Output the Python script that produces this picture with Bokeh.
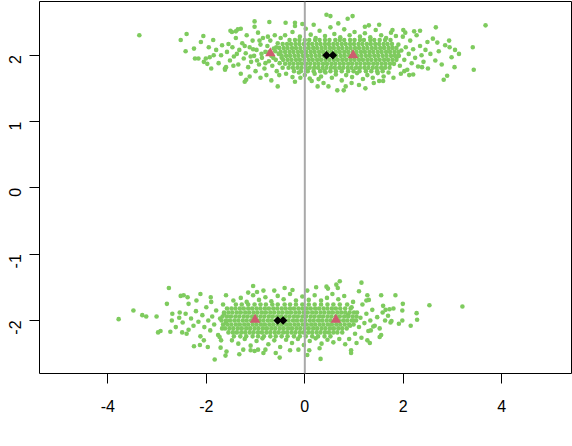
import math
from bokeh.plotting import figure
from bokeh.models import Range1d, FixedTicker, Span
from bokeh.embed import file_html
from bokeh.resources import INLINE

# ---------------- data ----------------
X_TICKS = [-4, -2, 0, 2, 4]
X_LABELS = ["-4", "-2", "0", "2", "4"]
Y_TICKS = [-2, -1, 0, 1, 2]
Y_LABELS = ["-2", "-1", "0", "1", "2"]

# upper cluster: dense core, rows of (y, x-values)
TOP_CORE_ROWS = [
    (2.23, [-0.31, -0.20, -0.11, 0.00, 0.09, 0.21, 0.30, 0.41, 0.50, 0.62, 0.71, 0.80, 0.92, 1.01, 1.12, 1.20, 1.33, 1.41, 1.52, 1.63, 1.74]),
    (2.17, [-0.45, -0.36, -0.28, -0.19, -0.11, -0.02, 0.07, 0.15, 0.24, 0.32, 0.41, 0.49, 0.58, 0.66, 0.75, 0.83, 0.92, 1.00, 1.09, 1.17, 1.26, 1.34, 1.43, 1.51, 1.60, 1.68, 1.77]),
    (2.11, [-0.52, -0.43, -0.35, -0.26, -0.18, -0.09, 0.00, 0.08, 0.17, 0.25, 0.34, 0.42, 0.51, 0.59, 0.68, 0.76, 0.85, 0.93, 1.02, 1.10, 1.19, 1.27, 1.36, 1.44, 1.53, 1.61, 1.70, 1.78, 1.86]),
    (2.05, [-0.49, -0.40, -0.31, -0.23, -0.14, -0.06, 0.03, 0.12, 0.20, 0.29, 0.37, 0.46, 0.54, 0.63, 0.71, 0.80, 0.88, 0.97, 1.05, 1.14, 1.22, 1.31, 1.39, 1.48, 1.56, 1.65, 1.73, 1.82, 1.90]),
    (1.99, [-0.47, -0.38, -0.30, -0.21, -0.13, -0.04, 0.05, 0.13, 0.22, 0.30, 0.39, 0.47, 0.56, 0.64, 0.73, 0.81, 0.90, 0.98, 1.07, 1.15, 1.24, 1.32, 1.41, 1.49, 1.58, 1.66, 1.75, 1.83, 1.91]),
    (1.93, [-0.44, -0.35, -0.27, -0.18, -0.10, -0.01, 0.08, 0.16, 0.25, 0.33, 0.42, 0.50, 0.59, 0.67, 0.76, 0.84, 0.93, 1.01, 1.10, 1.18, 1.27, 1.35, 1.44, 1.52, 1.61, 1.69, 1.78, 1.86]),
    (1.87, [-0.40, -0.31, -0.23, -0.14, -0.06, 0.03, 0.11, 0.20, 0.28, 0.37, 0.45, 0.54, 0.62, 0.71, 0.79, 0.88, 0.96, 1.05, 1.13, 1.22, 1.30, 1.39, 1.47, 1.56, 1.64, 1.73, 1.81]),
    (1.81, [-0.33, -0.24, -0.15, -0.07, 0.02, 0.10, 0.19, 0.27, 0.36, 0.44, 0.53, 0.61, 0.70, 0.78, 0.87, 0.95, 1.04, 1.12, 1.21, 1.29, 1.38, 1.46, 1.55, 1.63, 1.72]),
    (1.76, [-0.22, -0.08, 0.06, 0.18, 0.31, 0.40, 0.52, 0.63, 0.75, 0.88, 0.99, 1.11, 1.24, 1.35, 1.47, 1.58]),
]

# upper cluster: scattered points (x, y)
TOP_SCATTER = [
    (-1.58, 2.05), (-1.52, 1.92), (-1.47, 2.12), (-1.44, 1.98), (-1.40, 2.26), (-1.35, 1.86), (-1.33, 2.08),
    (-1.30, 1.72), (-1.27, 2.18), (-1.24, 1.95), (-1.20, 2.03), (-1.18, 2.30), (-1.15, 1.82), (-1.12, 2.12),
    (-1.09, 1.90), (-1.06, 2.22), (-1.03, 1.99), (-1.00, 1.76), (-0.98, 2.08), (-0.95, 2.34), (-0.93, 1.86),
    (-0.90, 2.16), (-0.87, 1.96), (-0.85, 2.26), (-0.82, 1.80), (-0.80, 2.05), (-0.78, 1.70), (-0.76, 2.14),
    (-0.73, 1.91), (-0.70, 2.22), (-0.68, 1.99), (-0.66, 1.84), (-0.63, 2.10), (-0.61, 2.30), (-0.59, 1.93),
    (-0.57, 1.76), (-0.55, 2.18), (-0.53, 2.02), (-0.51, 1.88), (-0.49, 2.26), (-0.47, 1.96), (-0.45, 1.81),
    (-0.60, 2.06), (-0.72, 2.05), (-0.88, 2.02), (-1.05, 2.09), (-1.22, 2.14), (-0.97, 1.92), (-0.80, 1.88),
    (-0.64, 1.96), (-1.38, 2.02), (-1.10, 1.98), (-0.92, 2.22), (-0.75, 2.28), (-0.58, 2.12), (-1.68, 2.15),
    (-1.75, 1.88), (-1.80, 2.08), (-1.85, 2.00), (-1.62, 1.80), (-1.48, 2.35), (-1.30, 2.40), (-1.12, 1.68),
    (-0.90, 1.66), (-0.68, 1.62), (-0.52, 1.70), (-1.95, 2.12), (-2.05, 1.90), (-1.90, 1.80), (-2.25, 2.10),
    (1.88, 1.98), (1.90, 2.16), (1.93, 1.84), (1.96, 2.07), (1.99, 2.28), (2.02, 1.93), (2.05, 2.12),
    (2.08, 1.78), (2.11, 2.02), (2.14, 2.22), (2.17, 1.88), (2.20, 2.09), (2.24, 1.96), (2.27, 2.30),
    (2.30, 1.83), (2.34, 2.14), (2.37, 2.00), (2.41, 1.90), (2.45, 2.08), (2.50, 1.80), (2.55, 2.02),
    (2.60, 2.25), (2.65, 1.92), (2.72, 2.06), (2.78, 1.86), (2.85, 2.15), (2.98, 1.97), (3.05, 2.08),
    (2.00, 2.38), (2.12, 1.70), (2.22, 2.36), (1.95, 1.72),
    (-0.40, 2.30), (-0.25, 2.35), (-0.10, 2.28), (0.02, 2.40), (0.12, 2.31), (0.22, 2.26), (0.30, 2.37),
    (0.41, 2.29), (0.52, 2.42), (0.60, 2.32), (0.72, 2.27), (0.80, 2.39), (0.91, 2.30), (1.01, 2.35),
    (1.12, 2.28), (1.22, 2.33), (1.33, 2.27), (1.44, 2.38), (1.55, 2.30), (1.65, 2.26), (1.75, 2.34),
    (1.85, 2.29), (0.18, 2.46), (0.68, 2.48), (1.30, 2.45), (-0.05, 2.47),
    (-0.38, 1.72), (-0.25, 1.67), (-0.12, 1.74), (0.00, 1.70), (0.10, 1.65), (0.20, 1.72), (0.33, 1.68),
    (0.42, 1.74), (0.55, 1.66), (0.63, 1.71), (0.75, 1.62), (0.84, 1.70), (0.96, 1.67), (1.06, 1.73),
    (1.18, 1.64), (1.27, 1.70), (1.38, 1.66), (1.48, 1.73), (1.60, 1.68), (1.70, 1.74), (1.80, 1.66),
    (0.38, 1.58), (0.95, 1.58), (1.40, 1.58), (-0.20, 1.60),
    (-3.36, 2.30), (-2.52, 2.23), (-2.40, 2.32), (-2.42, 2.06), (-2.23, 1.95), (-2.16, 1.95), (-2.11, 2.20),
    (-2.06, 2.29), (-2.01, 1.95), (-1.93, 1.97), (-1.98, 1.87), (-1.86, 2.23), (-1.70, 2.00), (-1.62, 1.78),
    (-1.60, 1.82), (-1.55, 2.17), (-1.51, 2.37), (-1.45, 1.84), (-1.40, 2.36), (-1.36, 2.39), (-1.22, 1.60),
    (-1.19, 1.63), (-1.02, 2.51), (-1.02, 2.43), (-0.72, 2.50), (-0.55, 1.53), (-0.39, 2.49), (-0.20, 2.49),
    (-0.20, 2.44), (-0.09, 1.66), (0.14, 1.61), (0.26, 1.53), (0.28, 1.64), (0.44, 2.61), (0.52, 2.59),
    (0.48, 1.53), (0.66, 1.47), (0.79, 1.47), (0.83, 1.53), (0.87, 2.55), (0.97, 2.59), (1.10, 1.55),
    (1.23, 1.50), (1.22, 2.43), (1.51, 2.46), (1.51, 1.61), (1.59, 1.61), (1.78, 2.38), (2.02, 1.76),
    (2.04, 2.34), (2.20, 1.71), (2.34, 2.37), (2.38, 1.82), (2.49, 2.20), (2.66, 2.42), (2.69, 2.19),
    (2.82, 1.63), (2.89, 1.69), (2.93, 2.22), (2.94, 2.12), (3.04, 1.82), (3.13, 2.02), (3.41, 2.12),
    (3.43, 1.78), (3.67, 2.45),
]

# lower cluster: dense core rows
BOTTOM_CORE_ROWS = [
    (-1.76, [-1.40, -1.28, -1.15, -1.02, -0.90, -0.79, -0.66, -0.55, -0.41, -0.30, -0.18, -0.05, 0.08, 0.20, 0.33, 0.46, 0.58, 0.71, 0.86]),
    (-1.82, [-1.58, -1.49, -1.41, -1.32, -1.24, -1.15, -1.07, -0.98, -0.90, -0.81, -0.73, -0.64, -0.56, -0.47, -0.39, -0.30, -0.22, -0.13, -0.05, 0.04, 0.12, 0.21, 0.29, 0.38, 0.46, 0.55, 0.63, 0.72, 0.82, 0.93]),
    (-1.88, [-1.64, -1.55, -1.47, -1.38, -1.30, -1.21, -1.13, -1.04, -0.96, -0.87, -0.79, -0.70, -0.62, -0.53, -0.45, -0.36, -0.28, -0.19, -0.11, -0.02, 0.06, 0.15, 0.23, 0.32, 0.40, 0.49, 0.57, 0.66, 0.74, 0.82, 0.91, 1.00]),
    (-1.94, [-1.67, -1.58, -1.50, -1.41, -1.33, -1.24, -1.16, -1.07, -0.99, -0.90, -0.82, -0.73, -0.65, -0.56, -0.48, -0.39, -0.31, -0.22, -0.14, -0.05, 0.03, 0.12, 0.20, 0.29, 0.37, 0.46, 0.54, 0.63, 0.71, 0.80, 0.88, 0.97, 1.05]),
    (-2.00, [-1.69, -1.60, -1.52, -1.43, -1.35, -1.26, -1.18, -1.09, -1.01, -0.92, -0.84, -0.75, -0.67, -0.58, -0.50, -0.41, -0.33, -0.24, -0.16, -0.07, 0.01, 0.10, 0.18, 0.27, 0.35, 0.44, 0.52, 0.61, 0.69, 0.78, 0.86, 0.95, 1.04]),
    (-2.06, [-1.66, -1.57, -1.49, -1.40, -1.32, -1.23, -1.15, -1.06, -0.98, -0.89, -0.81, -0.72, -0.64, -0.55, -0.47, -0.38, -0.30, -0.21, -0.13, -0.04, 0.04, 0.13, 0.21, 0.30, 0.38, 0.47, 0.55, 0.64, 0.72, 0.81, 0.90, 0.99]),
    (-2.12, [-1.62, -1.53, -1.45, -1.36, -1.28, -1.19, -1.11, -1.02, -0.94, -0.85, -0.77, -0.68, -0.60, -0.51, -0.43, -0.34, -0.26, -0.17, -0.09, 0.00, 0.08, 0.17, 0.25, 0.34, 0.42, 0.51, 0.59, 0.68, 0.76, 0.85]),
    (-2.18, [-1.55, -1.46, -1.38, -1.29, -1.21, -1.12, -1.04, -0.95, -0.87, -0.78, -0.70, -0.61, -0.53, -0.44, -0.36, -0.27, -0.19, -0.10, -0.02, 0.07, 0.15, 0.24, 0.32, 0.41, 0.49, 0.58, 0.66, 0.76]),
    (-2.24, [-1.44, -1.31, -1.19, -1.06, -0.95, -0.83, -0.70, -0.59, -0.47, -0.35, -0.22, -0.10, 0.02, 0.15, 0.27, 0.40, 0.52]),
]

BOTTOM_SCATTER = [
    (-1.60, -2.04), (-1.64, -1.90), (-1.68, -2.12), (-1.72, -1.97), (-1.76, -2.22), (-1.80, -1.85), (-1.84, -2.06),
    (-1.88, -1.94), (-1.92, -2.15), (-1.96, -2.00), (-2.00, -1.80), (-2.04, -2.10), (-2.08, -1.92), (-2.12, -2.24),
    (-2.16, -2.02), (-2.21, -1.86), (-2.26, -2.08), (-2.31, -1.97), (-2.36, -2.14), (-2.42, -1.90), (-2.48, -2.03),
    (-2.55, -1.96), (-2.62, -2.10), (-2.70, -2.00), (-1.70, -2.30), (-1.90, -1.72), (-2.20, -1.70), (-1.66, -1.76),
    (-2.05, -2.30),
    (0.88, -1.92), (0.92, -2.08), (0.95, -1.80), (0.99, -2.00), (1.02, -2.20), (1.06, -1.88), (1.10, -2.10),
    (1.13, -1.96), (1.17, -1.76), (1.21, -2.04), (1.25, -1.90), (1.29, -2.16), (1.33, -2.00), (1.37, -1.84),
    (1.42, -2.08), (1.47, -1.95), (1.52, -2.12), (1.58, -1.88), (1.63, -2.00), (1.69, -1.93), (0.90, -2.28),
    (1.15, -2.26), (0.98, -1.72), (1.25, -1.70), (1.05, -2.34),
    (-1.45, -1.70), (-1.30, -1.66), (-1.18, -1.72), (-1.05, -1.62), (-0.93, -1.69), (-0.80, -1.65), (-0.68, -1.71),
    (-0.55, -1.63), (-0.43, -1.68), (-0.30, -1.60), (-0.18, -1.70), (-0.05, -1.64), (0.08, -1.69), (0.20, -1.62),
    (0.33, -1.70), (0.45, -1.66), (0.56, -1.60), (0.68, -1.68), (0.80, -1.63), (-0.62, -1.55), (0.05, -1.55),
    (-1.15, -1.58),
    (-1.48, -2.30), (-1.35, -2.35), (-1.22, -2.28), (-1.10, -2.38), (-0.98, -2.31), (-0.86, -2.27), (-0.74, -2.36),
    (-0.62, -2.30), (-0.50, -2.40), (-0.38, -2.29), (-0.26, -2.34), (-0.14, -2.28), (-0.02, -2.37), (0.10, -2.31),
    (0.22, -2.27), (0.34, -2.35), (0.46, -2.29), (0.58, -2.33), (0.70, -2.28), (0.82, -2.36), (-0.80, -2.44),
    (-0.30, -2.45), (0.30, -2.42), (-1.25, -2.44),
    (-3.78, -1.98), (-3.48, -1.85), (-3.30, -1.92), (-3.22, -1.94), (-3.01, -1.94), (-2.76, -1.51), (-2.80, -1.75),
    (-2.93, -2.16), (-2.98, -2.18), (-2.73, -2.17), (-2.69, -1.90), (-2.54, -1.88), (-2.52, -1.63), (-2.46, -1.62),
    (-2.38, -1.65), (-2.36, -1.75), (-2.49, -2.18), (-2.40, -2.20), (-2.25, -2.39), (-2.13, -2.37), (-1.97, -2.40),
    (-2.12, -1.60), (-1.91, -1.65), (-1.83, -2.59), (-1.73, -2.25), (-1.71, -2.41), (-1.60, -1.62), (-1.59, -2.47),
    (-1.61, -2.53), (-1.33, -2.51), (-1.05, -1.48), (-0.97, -1.57), (-0.84, -1.55), (-1.10, -2.45), (-1.02, -2.46),
    (-0.95, -2.44), (-0.84, -2.49), (-0.59, -2.49), (-0.51, -2.56), (-0.41, -1.51), (-0.25, -1.54), (-0.13, -2.44),
    (0.05, -2.52), (0.09, -2.45), (0.32, -2.58), (0.23, -1.50), (0.44, -1.49), (0.47, -1.52), (0.64, -1.46),
    (0.71, -1.41), (0.67, -1.51), (1.15, -1.43), (1.10, -1.56), (1.27, -1.62), (1.30, -1.69), (1.55, -1.62),
    (1.84, -1.62), (0.94, -2.45), (0.94, -2.49), (1.27, -2.30), (1.32, -2.34), (1.55, -2.22), (1.52, -2.25),
    (1.39, -2.09), (1.34, -2.15), (1.59, -1.78), (1.64, -1.84), (1.72, -1.83), (1.80, -1.82), (1.74, -2.03),
    (1.76, -2.01), (1.91, -2.05), (1.98, -2.00), (1.99, -1.75), (1.98, -1.85), (2.15, -2.08), (2.27, -1.89),
    (2.28, -1.99), (2.53, -1.77), (3.20, -1.79),
]

# group centres (black diamonds) and red triangles
CENTER_X = [0.44, 0.57, -0.55, -0.44]
CENTER_Y = [2.00, 2.00, -2.00, -2.00]
TRI_X = [-0.70, 0.98, -1.01, 0.63]
TRI_Y = [2.03, 2.00, -1.99, -1.99]

GREEN = "#7ECB5E"
ROSE = "#CD5D6E"

# ---------------- assemble ----------------
pts_x, pts_y = [], []
for rows in (TOP_CORE_ROWS, BOTTOM_CORE_ROWS):
    for yv, xs in rows:
        for xv in xs:
            pts_x.append(xv)
            pts_y.append(yv)
for sc in (TOP_SCATTER, BOTTOM_SCATTER):
    for xv, yv in sc:
        pts_x.append(xv)
        pts_y.append(yv)

p = figure(width=572, height=446,
           x_range=Range1d(-5.387, 5.415), y_range=Range1d(-2.80, 2.81),
           output_backend="svg", toolbar_location=None,
           min_border_left=39, min_border_right=1, min_border_top=1, min_border_bottom=73)
p.background_fill_color = "white"
p.border_fill_color = "white"
p.outline_line_color = "black"
p.outline_line_width = 1
p.grid.visible = False

p.scatter(pts_x, pts_y, size=4.6, color=GREEN, line_width=0)

p.add_layout(Span(location=0, dimension="height", line_color="#A9A9A9", line_width=2))

p.scatter(TRI_X, TRI_Y, marker="triangle", size=10.5, color=ROSE, line_width=0)
p.scatter(CENTER_X, CENTER_Y, marker="square", angle=math.pi / 4, size=6, color="black", line_width=0)

for ax, ticks, labels in ((p.xaxis[0], X_TICKS, X_LABELS), (p.yaxis[0], Y_TICKS, Y_LABELS)):
    ax.ticker = FixedTicker(ticks=ticks)
    ax.major_label_overrides = {t: s for t, s in zip(ticks, labels)}
    ax.minor_tick_line_color = None
    ax.major_tick_in = 0
    ax.major_tick_out = 10
    ax.major_tick_line_color = "black"
    ax.axis_line_color = None
    ax.major_label_text_font = "Liberation Sans"
    ax.major_label_text_font_size = "16px"
    ax.major_label_text_color = "black"

p.xaxis.major_label_standoff = 16
p.yaxis.major_label_standoff = 14
p.yaxis.major_label_orientation = math.pi / 2

open("out.html", "w").write(file_html(p, INLINE))
